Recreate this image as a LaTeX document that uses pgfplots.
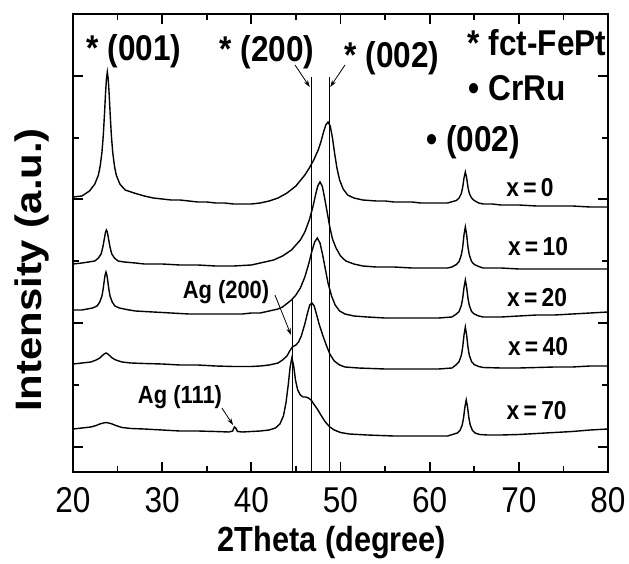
\documentclass[border=0pt]{standalone}
\usepackage{graphicx}
\usepackage{pgfplots}
\pgfplotsset{compat=1.18}
\usetikzlibrary{arrows.meta}
\usepackage{fontspec}
\setmainfont{Liberation Sans}[FakeStretch=0.88]
\newfontfamily\ylabfont{Liberation Sans}

\begin{document}
\begin{tikzpicture}
\path[use as bounding box] (-73bp,-92bp) rectangle (556bp,472bp);
\begin{axis}[
  scale only axis, width=535bp, height=458bp,
  xmin=20, xmax=80, ymin=0, ymax=458,
  clip=false,
  xtick={20,30,40,50,60,70,80},
  xticklabels={20,30,40,50,60,70,80},
  minor xtick={25,35,45,55,65,75},
  ytick={25,149,273,396}, minor ytick={87,211,334},
  yticklabels={},
  tick align=inside,
  major tick length=10bp, minor tick length=6bp,
  every tick/.style={black, line width=1.8bp},
  axis line style={line width=2.2bp},
  xticklabel style={font=\fontsize{36}{36}\selectfont, inner sep=0pt, anchor=north, yshift=-15bp},
  xlabel={2Theta (degree)},
  xlabel style={font=\fontsize{35}{35}\selectfont\bfseries, at={(axis description cs:0.484,-0.155)}, anchor=center},
  ylabel={\scalebox{1}[0.88]{\ylabfont\bfseries Intensity (a.u.)}},
  ylabel style={font=\fontsize{42}{42}\selectfont, at={(axis description cs:-0.077,0.441)}, anchor=center},
]
% x = 0
\addplot[black, line width=1.4bp, mark=none] coordinates {
(20,275)(21,276)(21.85,281)(22.45,288)(22.85,297)(23.05,306)(23.25,320)(23.4,337)(23.55,361)(23.65,379)(23.75,393)(23.85,400)(23.95,393)(24.05,379)(24.15,361)(24.3,337)(24.45,320)(24.65,306)(24.85,297)(25.25,288)(25.85,282)(26.85,279)(28,276)(29,274)(30,273)(31,272)(32,272)(33,271)(34,270)(35,270)(36,269)(37,269)(38,268)(39,268)(40,268)(41,269)(42,271)(43,274)(44,279)(45,286)(46,297)(46.5,304)(47,312)(47.5,322)(47.8,330)(48.1,340)(48.35,347)(48.6,350)(48.85,346)(49.1,334)(49.35,318)(49.6,304)(49.9,292)(50.3,283)(50.8,277)(51.5,274)(52.5,272)(54,271)(55,271)(56,270)(57,270)(58,270)(59,269)(60,269)(61,269)(62,269)(63,271.5)(63.3,274)(63.55,278.5)(63.7,284.5)(63.85,294)(64,300)(64.15,294)(64.3,284.5)(64.45,278.5)(64.7,274)(65,271.5)(65.5,269)(66,268)(67,268)(68,267)(70,267)(72,266)(74,266)(76,266)(78,265)(80,265)
};
% x = 10
\addplot[black, line width=1.4bp, mark=none] coordinates {
(20,208)(21,209)(21.75,210)(22.45,211)(22.85,214)(23.15,218)(23.35,225)(23.45,230)(23.55,235)(23.65,240)(23.75,242)(23.85,240)(23.95,235)(24.05,230)(24.15,225)(24.35,218)(24.65,214)(25.05,211)(25.75,210)(27,209)(28,208)(30,208)(32,207)(34,207)(36,206)(38,206)(40,207)(41,209)(42,211)(42.5,212)(43.5,216)(44.5,222)(45.5,232)(46,240)(46.5,252)(46.9,265)(47.2,277)(47.45,286)(47.7,290)(47.95,286)(48.2,275)(48.5,260)(48.8,245)(49.1,233)(49.5,224)(50,216)(50.6,211)(51.5,208)(52.5,206)(54,205)(56,205)(58,204)(60,204)(62,204)(62.5,205)(63,207.5)(63.3,210.5)(63.55,217)(63.7,224.5)(63.85,237)(64,245)(64.15,237)(64.3,224.5)(64.45,217)(64.7,210.5)(65,207.5)(65.5,205.5)(66,204)(68,204)(70,203)(72,203)(74,203)(76,203)(78,203)(80,203)
};
% x = 20
\addplot[black, line width=1.4bp, mark=none] coordinates {
(20,162)(21,162)(22.2,164)(22.7,166)(23,170)(23.25,176)(23.4,184)(23.5,191)(23.6,197)(23.7,200)(23.8,197)(23.9,191)(24,184)(24.15,176)(24.4,170)(24.7,166)(25.2,164)(26,162.5)(27,161)(29,160)(31,159)(33,158)(35,158)(37,158)(39,158)(40,159)(41,159)(42,161)(43,163)(43.5,165)(44.5,172)(45,177)(45.5,184)(46,195)(46.4,207)(46.8,221)(47.1,230)(47.4,234)(47.7,229)(48,217)(48.3,203)(48.6,189)(49,176)(49.4,167)(49.9,161)(50.5,158)(51.5,156)(53,155)(55,154)(57,154)(59,154)(61,154)(62.5,155)(63,158)(63.3,160.5)(63.55,166.5)(63.7,173.5)(63.85,184.5)(64,192)(64.15,184.5)(64.3,173.5)(64.45,166.5)(64.7,160.5)(65,158)(65.5,156)(66,155)(68,155)(70,156)(72,157)(74,157)(76,158)(78,159)(80,160)
};
% x = 40
\addplot[black, line width=1.4bp, mark=none] coordinates {
(20,108)(21,109)(22,110)(22.6,112)(23,114)(23.3,116.5)(23.5,118)(23.7,119)(23.9,118)(24.1,116.5)(24.4,114)(24.8,112)(25.5,110)(26.5,109)(28,108.5)(30,108)(32,107)(34,107)(36,106)(38,105.5)(40,105.5)(41,106)(42,107)(43,109)(43.5,112)(44,116)(44.3,121)(44.6,125)(45,127)(45.3,130)(45.6,136)(46,148)(46.3,159)(46.55,167)(46.8,169)(47.05,166)(47.3,158)(47.6,148)(48,137)(48.4,127)(48.8,118)(49.3,111)(49.9,107)(50.5,105)(52,104)(55,103)(58,103)(61,103)(62.5,104)(63,107.4)(63.3,110.4)(63.55,116.7)(63.7,124.5)(63.85,136.8)(64,145)(64.15,136.8)(64.3,124.5)(64.45,116.7)(64.7,110.4)(65,107.4)(65.5,105.5)(66,104.5)(68,104)(70,104)(72,104.5)(74,105)(76,105)(78,106)(80,106)
};
% x = 70
\addplot[black, line width=1.4bp, mark=none] coordinates {
(20,43)(21,44)(22,45)(22.6,46.5)(23,48)(23.4,49)(23.7,49.5)(24,49)(24.4,48)(24.8,46.5)(25.5,44.5)(26.5,43.5)(28,43)(30,42)(32,41)(34,41)(36,40.5)(37.5,40)(37.9,41)(38.1,45)(38.25,44)(38.45,40.5)(39,40)(40,40.5)(41,41)(42,42)(42.7,44)(43.2,48)(43.6,56)(43.9,70)(44.15,88)(44.35,105)(44.55,114)(44.75,106)(44.95,92)(45.2,82)(45.5,77)(45.8,75)(46.1,75)(46.4,74)(46.7,72)(47,68)(47.4,63)(47.8,57)(48.3,50)(48.8,45)(49.3,42)(50,39.5)(51,38)(53,37)(56,36)(59,36)(62,36)(63.1,39)(63.4,41.5)(63.65,47)(63.8,54)(63.95,64.8)(64.1,72)(64.25,64.8)(64.4,54)(64.55,47)(64.8,41.5)(65.1,39)(65.6,37.5)(66.5,37)(68,37)(70,37.5)(72,38.5)(74,39.5)(76,40.5)(78,42)(80,43)
};
% reference lines
\draw[black, line width=0.8bp] (axis cs:44.55,0) -- (axis cs:44.55,172);
\draw[black, line width=0.8bp] (axis cs:46.7,0) -- (axis cs:46.7,395);
\draw[black, line width=0.8bp] (axis cs:48.7,0) -- (axis cs:48.7,395);
% arrows
\draw[-{Stealth[length=7bp,width=4.5bp]}, line width=0.8bp] (axis cs:44.9,407) -- (axis cs:46.55,385);
\draw[-{Stealth[length=7bp,width=4.5bp]}, line width=0.8bp] (axis cs:50.5,407) -- (axis cs:48.85,385);
\draw[-{Stealth[length=7bp,width=4.5bp]}, line width=0.8bp] (axis cs:42.65,177) -- (axis cs:44.45,137);
\draw[-{Stealth[length=7bp,width=4.5bp]}, line width=0.8bp] (axis cs:36.7,64) -- (axis cs:37.95,47);
% labels
\node[font=\fontsize{36}{36}\selectfont\bfseries, inner sep=0pt] at (axis cs:26.84,421) {* (001)};
\node[font=\fontsize{36}{36}\selectfont\bfseries, inner sep=0pt] at (axis cs:41.76,420) {* (200)};
\node[font=\fontsize{36}{36}\selectfont\bfseries, inner sep=0pt] at (axis cs:55.77,414) {* (002)};
\node[font=\fontsize{36}{36}\selectfont\bfseries, inner sep=0pt] at (axis cs:72.04,429) {* fct-FePt};
\node[font=\fontsize{36}{36}\selectfont\bfseries, inner sep=0pt] at (axis cs:69.79,384) {\textbullet\ CrRu};
\node[font=\fontsize{36}{36}\selectfont\bfseries, inner sep=0pt] at (axis cs:64.86,330) {\textbullet\ (002)};
\node[font=\fontsize{26}{26}\selectfont\bfseries, inner sep=0pt] at (axis cs:71.25,284) {x\,=\,0};
\node[font=\fontsize{26}{26}\selectfont\bfseries, inner sep=0pt] at (axis cs:72.15,225) {x\,=\,10};
\node[font=\fontsize{26}{26}\selectfont\bfseries, inner sep=0pt] at (axis cs:72.04,174) {x\,=\,20};
\node[font=\fontsize{26}{26}\selectfont\bfseries, inner sep=0pt] at (axis cs:72.15,125) {x\,=\,40};
\node[font=\fontsize{26}{26}\selectfont\bfseries, inner sep=0pt] at (axis cs:72.0,61) {x\,=\,70};
\node[font=\fontsize{25}{25}\selectfont\bfseries, inner sep=0pt] at (axis cs:37.16,180) {Ag (200)};
\node[font=\fontsize{25}{25}\selectfont\bfseries, inner sep=0pt] at (axis cs:32.0,75) {Ag (111)};
\end{axis}
\end{tikzpicture}
\end{document}
